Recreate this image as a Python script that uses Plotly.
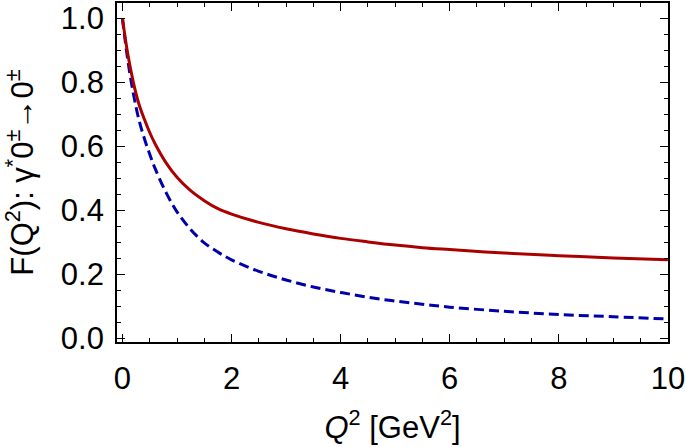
import plotly.graph_objects as go

Q2 = [0, 0.1, 0.2, 0.3, 0.4, 0.5, 0.6, 0.8, 1.0, 1.25, 1.5, 1.75, 2.0, 2.5,
      3.0, 3.5, 4.0, 4.5, 5.0, 5.5, 6.0, 7.0, 8.0, 9.0, 10.0]

F_solid = [1.0, 0.886, 0.80, 0.733, 0.685, 0.643, 0.607, 0.548, 0.503, 0.461,
           0.43, 0.405, 0.388, 0.362, 0.342, 0.326, 0.312, 0.301, 0.291, 0.283,
           0.277, 0.266, 0.258, 0.251, 0.245]

F_dashed = [1.0, 0.867, 0.765, 0.684, 0.625, 0.575, 0.53, 0.455, 0.395, 0.34,
            0.298, 0.269, 0.245, 0.209, 0.182, 0.16, 0.143, 0.128, 0.116,
            0.106, 0.097, 0.084, 0.074, 0.067, 0.06]

FONT = "Liberation Sans, Arial, sans-serif"
FS = 31

fig = go.Figure()
fig.add_trace(go.Scatter(
    x=Q2, y=F_dashed, mode="lines", line_shape="spline",
    line=dict(color="#0000AA", width=3, dash="10px,5px"),
))
fig.add_trace(go.Scatter(
    x=Q2, y=F_solid, mode="lines", line_shape="spline",
    line=dict(color="#AA0000", width=3),
))

axis_common = dict(
    showline=True, linecolor="black", linewidth=1.8, mirror="ticks",
    ticks="inside", ticklen=8, tickwidth=1.3, tickcolor="black",
    showgrid=False, zeroline=False, automargin=False, ticklabeloverflow="allow",
    tickfont=dict(family=FONT, size=FS, color="black"),
)

fig.update_xaxes(
    range=[-0.1, 10.002], tick0=0, dtick=2, ticklabelstandoff=8,
    minor=dict(dtick=0.5, ticks="inside", ticklen=4.5, tickwidth=1.1, tickcolor="black"),
    title=dict(text="<i>Q</i><sup>2</sup> [GeV<sup>2</sup>]", standoff=21,
               font=dict(family=FONT, size=FS, color="black")),
    **axis_common,
)
fig.update_yaxes(
    range=[-0.012, 1.048], tick0=0, dtick=0.2, tickformat=".1f", ticklabelstandoff=5,
    minor=dict(dtick=0.05, ticks="inside", ticklen=4.5, tickwidth=1.1, tickcolor="black"),
    title=dict(text="F(Q<sup>2</sup>): γ<sup>*</sup>0<sup>±</sup>→0<sup>±</sup>", standoff=22,
               font=dict(family=FONT, size=FS, color="black")),
    **axis_common,
)

fig.update_layout(
    width=685, height=447,
    margin=dict(l=117, r=17, t=3, b=105),
    plot_bgcolor="white", paper_bgcolor="white",
    showlegend=False,
)

# the page body has a default 8px margin; drop it so the figure sits at 0,0
fig.write_html("out.html", config={"displayModeBar": False},
               post_script="document.body.style.margin = '0';")
